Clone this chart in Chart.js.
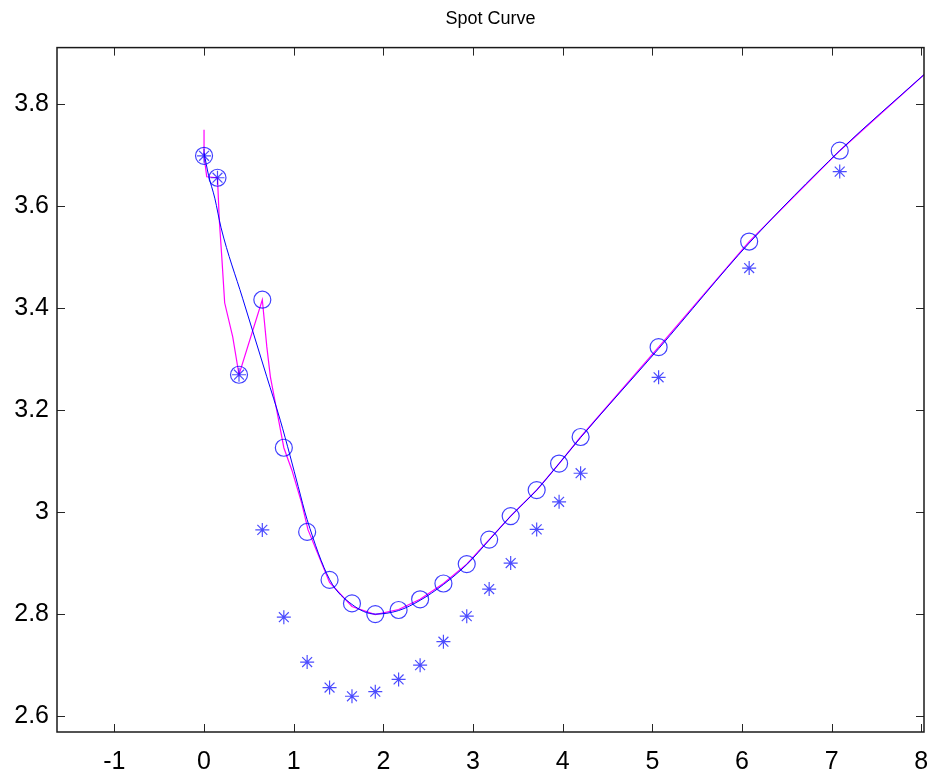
<!DOCTYPE html>
<html>
<head>
<meta charset="utf-8">
<script src="https://cdn.jsdelivr.net/npm/chart.js@4.4.1/dist/chart.umd.min.js"></script>
<style>
    html, body { margin: 0; padding: 0; background: #ffffff; }
    #wrap { width: 928px; height: 770px; }
</style>
</head>
<body>
<div id="wrap"><canvas id="spotChart" width="928" height="770"></canvas></div>
<script>
// 期限 (年)
const termX = [0, 0.15, 0.39, 0.65, 0.89, 1.15, 1.40, 1.65, 1.91, 2.17, 2.41, 2.67, 2.93, 3.18, 3.42, 3.71, 3.96, 4.20, 5.07, 6.08, 7.09];
// 圓圈: spot rate
const spotVals = [3.698, 3.655, 3.269, 3.416, 3.126, 2.961, 2.867, 2.821, 2.800, 2.808, 2.829, 2.860, 2.898, 2.946, 2.992, 3.043, 3.095, 3.147, 3.323, 3.530, 3.708];
// 星號: yield
const yieldVals = [3.698, 3.655, 3.269, 2.965, 2.794, 2.706, 2.656, 2.639, 2.648, 2.672, 2.700, 2.746, 2.796, 2.849, 2.900, 2.966, 3.020, 3.076, 3.264, 3.478, 3.667];

// 藍線: fitted curve
const fitX = [0, 0.05, 0.12, 0.19, 0.43, 0.70, 0.85, 0.96, 1.05, 1.15, 1.40, 1.65, 1.91, 2.17, 2.41, 2.67, 2.93, 3.18, 3.42, 3.71, 3.96, 4.20, 5.07, 6.08, 7.09, 8.03];
const fitVals = [3.704, 3.660, 3.615, 3.557, 3.419, 3.265, 3.180, 3.110, 3.050, 2.985, 2.868, 2.819, 2.800, 2.807, 2.827, 2.858, 2.897, 2.945, 2.992, 3.043, 3.095, 3.146, 3.320, 3.527, 3.708, 3.857];

// 粉紅線: interpolated curve
const pinkX = [0, 0, 0.03, 0.15, 0.17, 0.20, 0.23, 0.32, 0.39, 0.65, 0.70, 0.74, 0.81, 0.89, 0.98, 1.09, 1.16, 1.40, 1.65, 1.91, 2.17, 2.41, 2.67, 2.93, 3.18, 3.42, 3.71, 3.96, 4.20, 5.07, 6.08, 7.09, 8.03];
const pinkVals = [3.749, 3.698, 3.657, 3.655, 3.573, 3.494, 3.410, 3.343, 3.269, 3.416, 3.324, 3.265, 3.200, 3.126, 3.082, 3.017, 2.965, 2.862, 2.815, 2.799, 2.809, 2.829, 2.860, 2.898, 2.946, 2.992, 3.043, 3.095, 3.147, 3.323, 3.530, 3.708, 3.857];

const xTicks = [-1, 0, 1, 2, 3, 4, 5, 6, 7, 8];
const yTicks = [2.6, 2.8, 3.0, 3.2, 3.4, 3.6, 3.8];

function toPoints(xs, ys) {
    return xs.map((x, i) => ({ x: x, y: ys[i] }));
}

// MATLAB 風格的外框和內側刻度
const boxTicks = {
    id: 'boxTicks',
    afterDraw(chart) {
        const { ctx, chartArea: a, scales } = chart;
        const len = 8;
        ctx.save();
        ctx.strokeStyle = '#262626';
        ctx.lineWidth = 1;
        ctx.beginPath();
        scales.x.ticks.forEach(t => {
            const px = Math.round(scales.x.getPixelForValue(t.value)) + 0.5;
            ctx.moveTo(px, a.bottom); ctx.lineTo(px, a.bottom - len);
            ctx.moveTo(px, a.top); ctx.lineTo(px, a.top + len);
        });
        scales.y.ticks.forEach(t => {
            const py = Math.round(scales.y.getPixelForValue(t.value)) + 0.5;
            ctx.moveTo(a.left, py); ctx.lineTo(a.left + len, py);
            ctx.moveTo(a.right, py); ctx.lineTo(a.right - len, py);
        });
        ctx.stroke();
        ctx.lineWidth = 1.5;
        ctx.strokeStyle = '#1a1a1a';
        ctx.strokeRect(a.left, a.top, a.right - a.left, a.bottom - a.top);
        ctx.restore();
    }
};

const ctx = document.getElementById('spotChart');

new Chart(ctx, {
    type: 'scatter',
    data: {
        datasets: [
            {
                label: 'yield',
                data: toPoints(termX, yieldVals),
                pointStyle: 'star',
                pointRadius: 7,
                borderColor: 'rgba(0, 0, 255, 0.7)',
                backgroundColor: 'rgba(0, 0, 255, 0.7)',
                pointBorderWidth: 1.2,
                showLine: false
            },
            {
                label: 'spot',
                data: toPoints(termX, spotVals),
                pointStyle: 'circle',
                pointRadius: 8.5,
                borderColor: 'rgba(0, 0, 255, 0.75)',
                backgroundColor: 'rgba(0, 0, 0, 0)',
                pointBorderWidth: 1.2,
                showLine: false
            },
            {
                label: 'fit',
                data: toPoints(fitX, fitVals),
                showLine: true,
                pointRadius: 0,
                borderColor: '#0000ff',
                borderWidth: 1,
                cubicInterpolationMode: 'monotone'
            },
            {
                label: 'interp',
                data: toPoints(pinkX, pinkVals),
                showLine: true,
                pointRadius: 0,
                borderColor: '#ff00ff',
                borderWidth: 1.2,
                tension: 0
            }
        ]
    },
    options: {
        responsive: false,
        animation: false,
        events: [],
        layout: { autoPadding: false, padding: { left: 0, right: 4, top: 0, bottom: 0 } },
        plugins: {
            legend: { display: false },
            tooltip: { enabled: false },
            title: {
                display: true,
                fullSize: false,
                text: 'Spot Curve',
                color: '#000000',
                font: { family: '"Liberation Sans", Arial, sans-serif', size: 18, weight: 'normal' },
                padding: { top: 8, bottom: 18 }
            }
        },
        scales: {
            x: {
                type: 'linear',
                min: -1.64,
                max: 8.03,
                afterBuildTicks: scale => { scale.ticks = xTicks.map(v => ({ value: v })); },
                afterFit: scale => { scale.height = 38; scale.paddingLeft = 0; scale.paddingRight = 0; },
                ticks: {
                    color: '#000000',
                    padding: 15,
                    font: { family: '"Liberation Sans", Arial, sans-serif', size: 25 }
                },
                grid: { display: false, drawTicks: false },
                border: { display: false }
            },
            y: {
                type: 'linear',
                min: 2.569,
                max: 3.910,
                afterBuildTicks: scale => { scale.ticks = yTicks.map(v => ({ value: v })); },
                afterFit: scale => { scale.width = 57; scale.paddingTop = 0; scale.paddingBottom = 0; },
                ticks: {
                    color: '#000000',
                    padding: 8,
                    font: { family: '"Liberation Sans", Arial, sans-serif', size: 25 },
                    callback: v => String(Math.round(v * 10) / 10)
                },
                grid: { display: false, drawTicks: false },
                border: { display: false }
            }
        }
    },
    plugins: [boxTicks]
});
</script>
</body>
</html>
